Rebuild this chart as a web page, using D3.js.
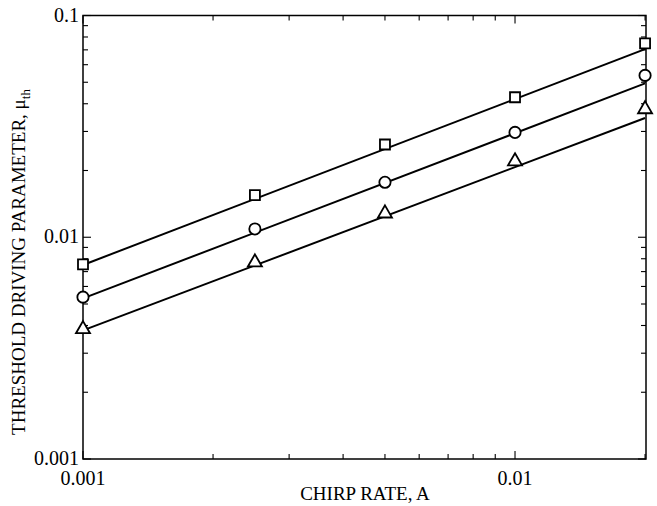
<!DOCTYPE html>
<html>
<head>
<meta charset="utf-8">
<script src="https://cdn.jsdelivr.net/npm/d3@7"></script>
<style>
body { margin: 0; background: #fff; }
text { font-family: 'Liberation Serif', 'Times New Roman', serif; fill: #000; }
</style>
</head>
<body>
<svg id="chart"></svg>
<script>
    // Data
    var chirpRates = [0.001, 0.0025, 0.005, 0.01, 0.02];
    var squareVals = [0.00755, 0.0155, 0.0262, 0.0428, 0.0748];
    var circleVals = [0.00537, 0.0109, 0.0177, 0.0297, 0.0537];
    var triangleVals = [0.00385, 0.0077, 0.0128, 0.0220, 0.0378];

    // Fitted lines, end values at the edges of the x range
    var fitX = [0.001, 0.02];
    var squareFit = [0.0075, 0.0705];
    var circleFit = [0.0053, 0.0494];
    var triangleFit = [0.0038, 0.0345];

    var xTickLabels = [0.001, 0.01];
    var yTickLabels = [0.001, 0.01, 0.1];

    var vWidth = 657, vHeight = 506;
    var margin = { left: 83, right: 11, top: 15.5, bottom: 47 };

    var svg = d3.select('#chart').attr('width', vWidth).attr('height', vHeight);

    var x = d3.scaleLog().domain([0.001, 0.0201]).range([margin.left, vWidth - margin.right]);
    var y = d3.scaleLog().domain([0.001, 0.1]).range([vHeight - margin.bottom, margin.top]);

    var x0 = x.range()[0], x1 = x.range()[1], y0 = y.range()[0], y1 = y.range()[1];

    // minor/major tick values
    function logTicks(lo, hi) {
        var out = [];
        for (var e = Math.floor(Math.log10(lo)); e <= Math.ceil(Math.log10(hi)); e++) {
            for (var m = 1; m <= 9; m++) {
                var v = m * Math.pow(10, e);
                if (v >= lo * 0.9999 && v <= hi * 1.0001) out.push({ v: v, major: m === 1 });
            }
        }
        return out;
    }

    var ticksG = svg.append('g').attr('stroke', '#000').attr('stroke-width', 1.1);

    logTicks(0.001, 0.0201).forEach(function (t) {
        var len = t.major ? 8 : 5;
        var px = x(t.v);
        ticksG.append('line').attr('x1', px).attr('x2', px).attr('y1', y0).attr('y2', y0 - len);
        ticksG.append('line').attr('x1', px).attr('x2', px).attr('y1', y1).attr('y2', y1 + len);
    });
    logTicks(0.001, 0.1).forEach(function (t) {
        var len = t.major ? 8 : 5;
        var py = y(t.v);
        ticksG.append('line').attr('x1', x0).attr('x2', x0 + len).attr('y1', py).attr('y2', py);
        ticksG.append('line').attr('x1', x1).attr('x2', x1 - len).attr('y1', py).attr('y2', py);
    });

    // frame
    svg.append('rect')
        .attr('x', x0).attr('y', y1)
        .attr('width', x1 - x0).attr('height', y0 - y1)
        .attr('fill', 'none').attr('stroke', '#000').attr('stroke-width', 1.5);

    // tick labels
    svg.selectAll('.xlab').data(xTickLabels).enter().append('text')
        .attr('x', function (d) { return x(d); })
        .attr('y', y0 + 26)
        .attr('text-anchor', 'middle')
        .style('font-size', '20px')
        .text(function (d) { return String(d); });

    svg.selectAll('.ylab').data(yTickLabels).enter().append('text')
        .attr('x', x0 - 4)
        .attr('y', function (d) { return y(d) + 6; })
        .attr('text-anchor', 'end')
        .style('font-size', '20px')
        .text(function (d) { return String(d); });

    // axis titles
    svg.append('text')
        .attr('x', 365).attr('y', 500)
        .attr('text-anchor', 'middle')
        .style('font-size', '19px')
        .text('CHIRP RATE, A');

    var yt = svg.append('text')
        .attr('transform', 'translate(25,262)rotate(-90)')
        .attr('text-anchor', 'middle')
        .style('font-size', '19px');
    yt.append('tspan').text('THRESHOLD DRIVING PARAMETER, \u03bc');
    yt.append('tspan').attr('dy', 5).style('font-size', '13px').text('th');

    // fit lines
    var line = d3.line()
        .x(function (d) { return x(d[0]); })
        .y(function (d) { return y(d[1]); });

    [squareFit, circleFit, triangleFit].forEach(function (f) {
        svg.append('path')
            .attr('d', line(fitX.map(function (v, i) { return [v, f[i]]; })))
            .attr('fill', 'none').attr('stroke', '#000').attr('stroke-width', 2);
    });

    // markers
    var series = [
        { vals: squareVals, sym: d3.symbolSquare, size: 100 },
        { vals: circleVals, sym: d3.symbolCircle, size: 100 },
        { vals: triangleVals, sym: d3.symbolTriangle, size: 85 }
    ];
    series.forEach(function (s) {
        svg.append('g').selectAll('path')
            .data(chirpRates.map(function (v, i) { return [v, s.vals[i]]; }))
            .enter().append('path')
            .attr('transform', function (d) { return 'translate(' + x(d[0]) + ',' + y(d[1]) + ')'; })
            .attr('d', d3.symbol().type(s.sym).size(s.size))
            .attr('fill', '#fff').attr('stroke', '#000').attr('stroke-width', 1.8);
    });
</script>
</body>
</html>
